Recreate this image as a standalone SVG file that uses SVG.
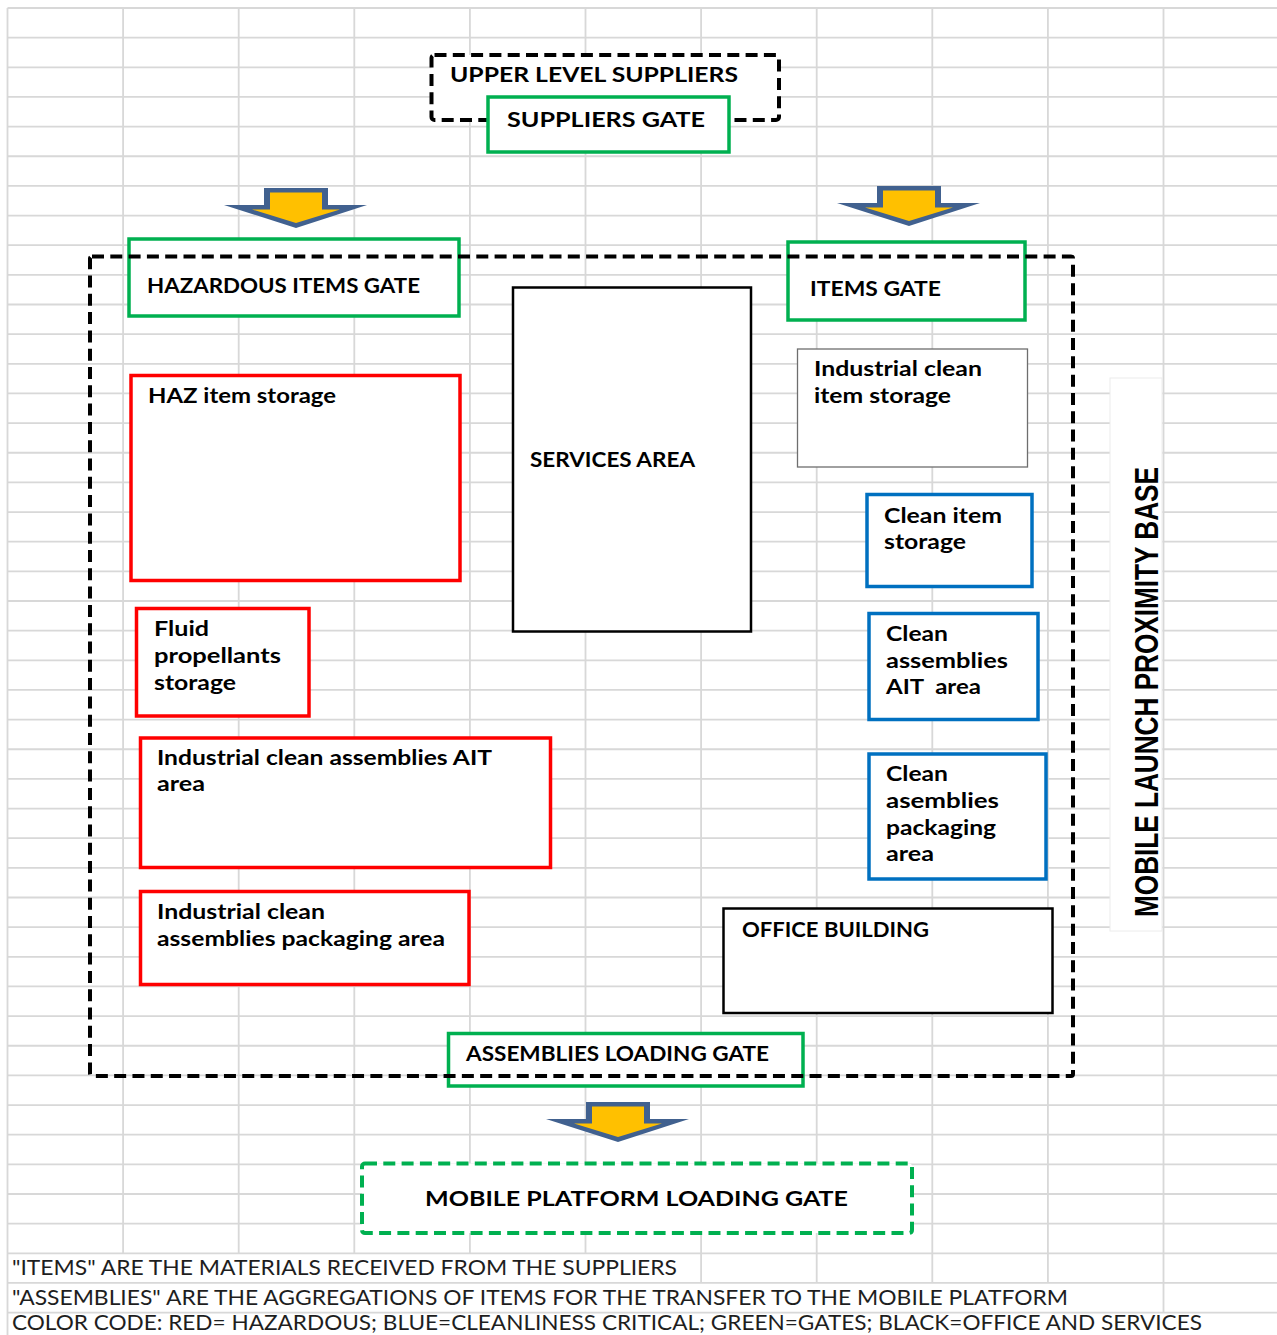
<svg xmlns="http://www.w3.org/2000/svg" xmlns:xlink="http://www.w3.org/1999/xlink" width="1277" height="1335" viewBox="0 0 1277 1335">
<style>
.grid{stroke:#d8d8d8;stroke-width:1.8;fill:none}
.gate{fill:#fff;stroke:#00b050;stroke-width:3.5}
.haz{fill:#fff;stroke:#ff0000;stroke-width:3.5}
.clean{fill:#fff;stroke:#0070c0;stroke-width:3.5}
.blk{fill:#fff;stroke:#000;stroke-width:2.5}
.thin{fill:#fff;stroke:#6e6e6e;stroke-width:1.3}
.dash{fill:none;stroke:#000;stroke-width:4;stroke-dasharray:12 6.3}
.wdash{fill:#fff;stroke:#000;stroke-width:4;stroke-dasharray:12 6.3}
.gdash{fill:#fff;stroke:#00b050;stroke-width:4;stroke-dasharray:12 6.3}
.t{font-family:Lato,"Open Sans","Liberation Sans",sans-serif;font-weight:700;font-size:20px;fill:#000}
.f{font-family:Lato,"Open Sans","Liberation Sans",sans-serif;font-weight:400;font-size:21px;fill:#1e1e1e}
.v{font-family:"Liberation Sans Narrow","Liberation Sans",Arial,sans-serif;font-weight:700;font-size:34px;fill:#000}
</style>
<defs>
<g id="arrowShape">
<polygon points="-32,0 32,0 32,17 71,17 0,40 -72,17 -32,17" fill="#41618f"/>
<polygon points="-26,4.5 26,4.5 26,21.5 44,21.5 0,35 -44,21.5 -26,21.5" fill="#ffc000"/>
</g>
</defs>
<rect width="1277" height="1335" fill="#fff"/>
<g id="grid" class="grid">
<path d="M7.5,8H1277M7.5,37.65H1277M7.5,67.3H1277M7.5,96.95H1277M7.5,126.6H1277M7.5,156.25H1277M7.5,185.9H1277M7.5,215.55H1277M7.5,245.2H1277M7.5,274.85H1277M7.5,304.5H1277M7.5,334.15H1277M7.5,363.8H1277M7.5,393.45H1277M7.5,423.1H1277M7.5,452.75H1277M7.5,482.4H1277M7.5,512.05H1277M7.5,541.7H1277M7.5,571.35H1277M7.5,601H1277M7.5,630.65H1277M7.5,660.3H1277M7.5,689.95H1277M7.5,719.6H1277M7.5,749.25H1277M7.5,778.9H1277M7.5,808.55H1277M7.5,838.2H1277M7.5,867.85H1277M7.5,897.5H1277M7.5,927.15H1277M7.5,956.8H1277M7.5,986.45H1277M7.5,1016.1H1277M7.5,1045.75H1277M7.5,1075.4H1277M7.5,1105.05H1277M7.5,1134.7H1277M7.5,1164.35H1277M7.5,1194H1277M7.5,1223.65H1277M7.5,1253.3H1277M7.5,1282.95H1277M7.5,1312.6H1277"/>
<path d="M7.5,8V1335M123.1,8V1253.3M238.7,8V1253.3M354.3,8V1253.3M469.9,8V1253.3M585.5,8V1253.3M701.1,8V1282.95M816.7,8V1282.95M932.3,8V1282.95M1047.9,8V1282.95M1163.5,8V1312.6"/>
</g>
<g id="label-box">
<rect x="1110" y="378" width="52" height="553" fill="#fff" stroke="#ececec" stroke-width="1"/>
<text class="v" transform="translate(1157.5,917) rotate(-90)" textLength="450" lengthAdjust="spacingAndGlyphs">MOBILE LAUNCH PROXIMITY BASE</text>
</g>
<g id="upper-level-suppliers">
<rect class="wdash" x="431.5" y="55" width="347.5" height="65" rx="3"/>
<text class="t" x="450" y="82" font-size="21" textLength="288" lengthAdjust="spacingAndGlyphs">UPPER LEVEL SUPPLIERS</text>
</g>
<g id="suppliers-gate">
<rect class="gate" x="488" y="97" width="241" height="55"/>
<text class="t" x="507" y="127" font-size="21" textLength="198" lengthAdjust="spacingAndGlyphs">SUPPLIERS GATE</text>
</g>
<g id="connectors">
<use xlink:href="#arrowShape" href="#arrowShape" x="296" y="188"/>
<use xlink:href="#arrowShape" href="#arrowShape" x="909" y="186"/>
<use xlink:href="#arrowShape" href="#arrowShape" x="618" y="1102"/>
</g>
<g id="hazardous-items-gate">
<rect class="gate" x="129" y="239" width="330" height="77"/>
<text class="t" x="147" y="293" textLength="273" lengthAdjust="spacingAndGlyphs">HAZARDOUS ITEMS GATE</text>
</g>
<g id="items-gate">
<rect class="gate" x="788" y="242" width="237" height="78"/>
<text class="t" x="810" y="296" textLength="131" lengthAdjust="spacingAndGlyphs">ITEMS GATE</text>
</g>
<g id="services-area">
<rect class="blk" x="513" y="287.5" width="238" height="344"/>
<text class="t" x="530" y="467" textLength="165" lengthAdjust="spacingAndGlyphs">SERVICES AREA</text>
</g>
<g id="haz-item-storage">
<rect class="haz" x="131" y="375.5" width="329" height="205"/>
<text class="t" x="148" y="403" textLength="188" lengthAdjust="spacingAndGlyphs">HAZ item storage</text>
</g>
<g id="industrial-clean-item-storage">
<rect class="thin" x="797.5" y="349" width="230" height="118"/>
<text class="t" x="814" y="376" textLength="168" lengthAdjust="spacingAndGlyphs">Industrial clean</text>
<text class="t" x="814" y="403" textLength="137" lengthAdjust="spacingAndGlyphs">item storage</text>
</g>
<g id="clean-item-storage">
<rect class="clean" x="867" y="494.5" width="165" height="92"/>
<text class="t" x="884" y="523" textLength="118" lengthAdjust="spacingAndGlyphs">Clean item</text>
<text class="t" x="884" y="549" textLength="82" lengthAdjust="spacingAndGlyphs">storage</text>
</g>
<g id="fluid-propellants-storage">
<rect class="haz" x="136.5" y="608.5" width="172.5" height="107.5"/>
<text class="t" x="154" y="636" textLength="55" lengthAdjust="spacingAndGlyphs">Fluid</text>
<text class="t" x="154" y="663" textLength="127" lengthAdjust="spacingAndGlyphs">propellants</text>
<text class="t" x="154" y="690" textLength="82" lengthAdjust="spacingAndGlyphs">storage</text>
</g>
<g id="clean-assemblies-ait-area">
<rect class="clean" x="869" y="613.5" width="169" height="106"/>
<text class="t" x="886" y="641" textLength="62" lengthAdjust="spacingAndGlyphs">Clean</text>
<text class="t" x="886" y="668" textLength="122" lengthAdjust="spacingAndGlyphs">assemblies</text>
<text class="t" x="886" y="694" textLength="95" lengthAdjust="spacingAndGlyphs" xml:space="preserve">AIT  area</text>
</g>
<g id="industrial-clean-assemblies-ait-area">
<rect class="haz" x="140.5" y="738" width="410" height="129.5"/>
<text class="t" x="157" y="765" textLength="335" lengthAdjust="spacingAndGlyphs">Industrial clean assemblies AIT</text>
<text class="t" x="157" y="791" textLength="48" lengthAdjust="spacingAndGlyphs">area</text>
</g>
<g id="clean-assemblies-packaging-area">
<rect class="clean" x="869" y="754" width="177" height="125"/>
<text class="t" x="886" y="781" textLength="62" lengthAdjust="spacingAndGlyphs">Clean</text>
<text class="t" x="886" y="808" textLength="113" lengthAdjust="spacingAndGlyphs">asemblies</text>
<text class="t" x="886" y="835" textLength="110" lengthAdjust="spacingAndGlyphs">packaging</text>
<text class="t" x="886" y="861" textLength="48" lengthAdjust="spacingAndGlyphs">area</text>
</g>
<g id="industrial-clean-assemblies-packaging-area">
<rect class="haz" x="140.5" y="891.5" width="328.5" height="93"/>
<text class="t" x="157" y="919" textLength="168" lengthAdjust="spacingAndGlyphs">Industrial clean</text>
<text class="t" x="157" y="946" textLength="288" lengthAdjust="spacingAndGlyphs">assemblies packaging area</text>
</g>
<g id="office-building">
<rect class="blk" x="723.5" y="908.5" width="329" height="104.5" stroke-width="2.2"/>
<text class="t" x="742" y="937" textLength="187" lengthAdjust="spacingAndGlyphs">OFFICE BUILDING</text>
</g>
<g id="assemblies-loading-gate">
<rect class="gate" x="448.5" y="1033.5" width="354.5" height="52.5"/>
<text class="t" x="466" y="1061" textLength="303" lengthAdjust="spacingAndGlyphs">ASSEMBLIES LOADING GATE</text>
</g>
<g id="mobile-launch-proximity-base">
<rect class="dash" x="90" y="256.5" width="983" height="819.5" rx="2"/>
</g>
<g id="mobile-platform-loading-gate">
<rect class="gdash" x="362" y="1163.5" width="550" height="69.5" rx="3"/>
<text class="t" x="425" y="1206" font-size="22" textLength="423" lengthAdjust="spacingAndGlyphs">MOBILE PLATFORM LOADING GATE</text>
</g>
<g id="footer">
<text class="f" x="12" y="1275" textLength="665" lengthAdjust="spacingAndGlyphs">"ITEMS" ARE THE MATERIALS RECEIVED FROM THE SUPPLIERS</text>
<text class="f" x="12" y="1305" textLength="1056" lengthAdjust="spacingAndGlyphs">"ASSEMBLIES" ARE THE AGGREGATIONS OF ITEMS FOR THE TRANSFER TO THE MOBILE PLATFORM</text>
<text class="f" x="12" y="1330" font-size="19.5" textLength="1190" lengthAdjust="spacingAndGlyphs">COLOR CODE: RED= HAZARDOUS; BLUE=CLEANLINESS CRITICAL; GREEN=GATES; BLACK=OFFICE AND SERVICES</text>
</g>
</svg>
